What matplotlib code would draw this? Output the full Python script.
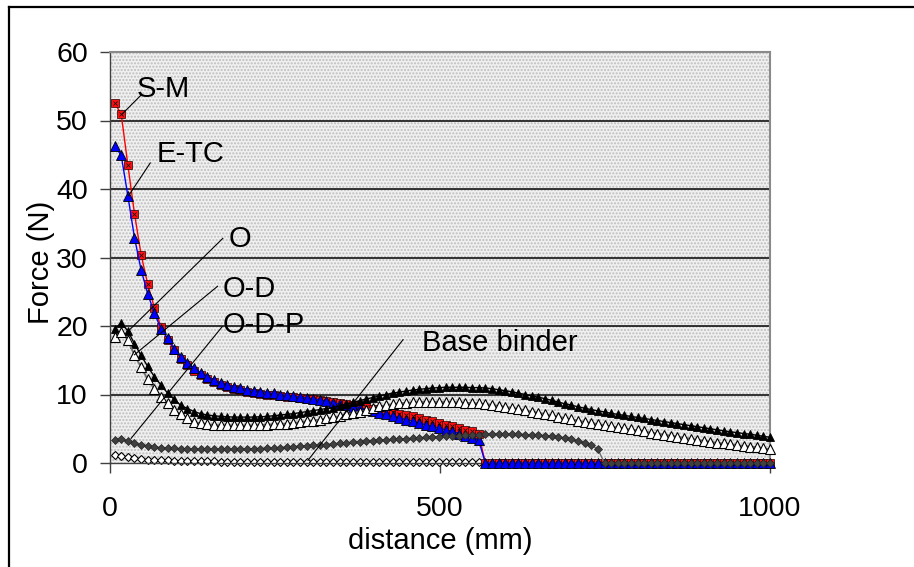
import matplotlib
matplotlib.use("Agg")
import matplotlib.pyplot as plt
import numpy as np
from matplotlib.patches import Rectangle
from matplotlib.lines import Line2D

plt.rcParams["font.family"] = ["Liberation Sans", "DejaVu Sans"]

# sampling distance (mm), one reading about every 10 mm
distance = np.linspace(7, 1000, 100)

s_m = [52.6, 50.9, 43.5, 36.4, 30.4, 26.1, 22.7, 19.9, 18.0, 16.5,
       15.2, 14.3, 13.5, 12.8, 12.2, 11.8, 11.4, 11.1, 10.8, 10.6,
       10.4, 10.25, 10.1, 10.0, 9.9, 9.8, 9.7, 9.6, 9.5, 9.4,
       9.3, 9.2, 9.05, 8.9, 8.75, 8.6, 8.45, 8.3, 8.15, 7.95,
       7.75, 7.6, 7.4, 7.2, 7.0, 6.8, 6.6, 6.35, 6.1, 5.85,
       5.6, 5.35, 5.1, 4.85, 4.6, 4.2] + [0.0] * 44

e_tc = [46.3, 44.9, 39.0, 32.9, 28.2, 24.7, 21.9, 19.6, 18.2, 16.7,
        15.5, 14.6, 13.9, 13.2, 12.6, 12.1, 11.7, 11.4, 11.1, 10.9,
        10.7, 10.5, 10.4, 10.25, 10.15, 10.0, 9.9, 9.75, 9.65, 9.5,
        9.35, 9.2, 9.0, 8.8, 8.6, 8.4, 8.2, 8.0, 7.8, 7.6,
        7.3, 7.1, 6.85, 6.6, 6.35, 6.1, 5.85, 5.6, 5.35, 5.1,
        4.85, 4.6, 4.3, 4.0, 3.7, 3.3] + [0.0] * 44

o = [19.6, 20.4, 19.3, 17.4, 15.7, 14.1, 12.6, 11.4, 10.2, 9.3,
     8.4, 7.95, 7.5, 7.2, 7.0, 6.9, 6.8, 6.75, 6.7, 6.7,
     6.7, 6.7, 6.75, 6.8, 6.9, 7.0, 7.1, 7.2, 7.35, 7.5,
     7.65, 7.8, 7.95, 8.1, 8.35, 8.6, 8.85, 9.1, 9.35, 9.55,
     9.8, 10.0, 10.2, 10.35, 10.5, 10.65, 10.75, 10.85, 10.95, 11.0,
     11.05, 11.05, 11.05, 11.05, 11.0, 11.0, 10.95, 10.85, 10.7, 10.55,
     10.4, 10.2, 10.0, 9.8, 9.6, 9.4, 9.15, 8.9, 8.65, 8.45,
     8.2, 8.0, 7.8, 7.6, 7.45, 7.25, 7.1, 6.95, 6.8, 6.65,
     6.5, 6.35, 6.2, 6.05, 5.9, 5.75, 5.6, 5.45, 5.3, 5.15,
     5.0, 4.85, 4.7, 4.55, 4.45, 4.3, 4.2, 4.05, 3.9, 3.75]

o_d = [18.4, 19.1, 18.0, 15.7, 14.0, 12.2, 10.8, 9.7, 8.7, 7.7,
       7.1, 6.5, 6.0, 5.8, 5.65, 5.55, 5.5, 5.5, 5.5, 5.5,
       5.5, 5.5, 5.55, 5.6, 5.65, 5.7, 5.75, 5.85, 5.95, 6.1,
       6.2, 6.35, 6.5, 6.65, 6.85, 7.1, 7.3, 7.5, 7.7, 8.0,
       8.25, 8.45, 8.6, 8.7, 8.8, 8.85, 8.9, 8.9, 8.9, 8.9,
       8.9, 8.9, 8.85, 8.8, 8.75, 8.7, 8.6, 8.5, 8.35, 8.2,
       8.05, 7.9, 7.7, 7.5, 7.35, 7.15, 6.95, 6.75, 6.55, 6.4,
       6.2, 6.0, 5.85, 5.65, 5.5, 5.35, 5.2, 5.05, 4.9, 4.75,
       4.6, 4.45, 4.3, 4.15, 4.0, 3.85, 3.7, 3.55, 3.4, 3.25,
       3.1, 2.95, 2.85, 2.75, 2.6, 2.5, 2.4, 2.3, 2.15, 2.0]

o_d_p = [3.3, 3.5, 3.2, 2.85, 2.7, 2.5, 2.35, 2.25, 2.2, 2.15,
         2.1, 2.05, 2.0, 2.0, 2.0, 2.0, 2.0, 2.0, 2.0, 2.05,
         2.05, 2.1, 2.1, 2.15, 2.2, 2.25, 2.3, 2.4, 2.45, 2.5,
         2.6, 2.65, 2.7, 2.8, 2.9, 2.95, 3.05, 3.1, 3.2, 3.25,
         3.35, 3.4, 3.45, 3.5, 3.55, 3.6, 3.65, 3.75, 3.8, 3.85,
         3.9, 3.95, 4.0, 4.05, 4.1, 4.15, 4.2, 4.2, 4.2, 4.2,
         4.2, 4.2, 4.15, 4.1, 4.05, 4.0, 3.9, 3.8, 3.65, 3.45,
         3.2, 2.95, 2.6, 2.0] + [0.0] * 26

base_binder = ([1.15, 1.0, 0.85, 0.7, 0.6, 0.5, 0.45, 0.4, 0.38, 0.35,
                0.32, 0.3, 0.28, 0.26, 0.25, 0.24] + [0.2] * 9
               + [0.15] * 16 + [0.1] * 15 + [0.0] * 44)

fig = plt.figure(figsize=(9.14, 5.67), dpi=100)
ax = fig.add_axes([110 / 914, 1 - 463 / 567, 660 / 914, 411 / 567])

# stippled grey plot area
ax.add_patch(Rectangle((0, 0), 1, 1, transform=ax.transAxes, facecolor="#f0f0f0",
                       edgecolor="#bdbdbd", hatch=".....", lw=0, zorder=0))
ax.set_facecolor("white")

for yv in [10, 20, 30, 40, 50]:
    ax.axhline(yv, color="black", lw=1.1, zorder=1)

# base binder
ax.plot(distance, base_binder, color="#808080", lw=1, marker="D", ms=4.5,
        mfc="white", mec="black", mew=0.8, zorder=2, clip_on=False)
# S-M
ax.plot(distance, s_m, color="red", lw=1, marker="s", ms=5.5,
        mfc="#ff1010", mec="#200000", mew=0.5, zorder=3, clip_on=False)
ax.plot(distance, s_m, ls="none", marker="x", ms=2.8, mec="black", mew=0.5,
        zorder=3, clip_on=False)
# E-TC
ax.plot(distance, e_tc, color="blue", lw=1, marker="^", ms=7,
        mfc="blue", mec="black", mew=0.6, zorder=4, clip_on=False)
# O
ax.plot(distance, o, color="black", lw=1, marker="^", ms=6,
        mfc="black", mec="black", mew=0.6, zorder=5, clip_on=False)
# O-D
ax.plot(distance, o_d, color="#707070", lw=1.3, marker="^", ms=6.5,
        mfc="white", mec="black", mew=0.8, zorder=6, clip_on=False)
# O-D-P
ax.plot(distance, o_d_p, color="#707070", lw=1, marker="D", ms=4.5,
        mfc="#404040", mec="#202020", mew=0.5, zorder=7, clip_on=False)

ax.set_xlim(0, 1000)
ax.set_ylim(0, 60)
ax.set_xticks([0, 500, 1000])
ax.set_yticks([0, 10, 20, 30, 40, 50, 60])
ax.tick_params(axis="both", direction="out", length=7, width=1, color="#404040",
               labelsize=20.5)
ax.tick_params(axis="y", pad=9)
ax.tick_params(axis="x", pad=17)
for side in ["left", "bottom"]:
    ax.spines[side].set_color("#404040")
    ax.spines[side].set_linewidth(1)
for side in ["top", "right"]:
    ax.spines[side].set_color("#8a8a8a")
    ax.spines[side].set_linewidth(1.5)

fig.text(440 / 914, 1 - 541 / 567, "distance (mm)", ha="center", va="center", fontsize=21)
fig.text(41 / 914, 1 - 262 / 567, "Force (N)", ha="center", va="center", fontsize=21,
         rotation=90)

# labels with leader lines
labels = [
    ("S-M", (18, 50.9), (47, 53.7), (41, 53.4)),
    ("E-TC", (28, 39.0), (61, 43.8), (70, 43.9)),
    ("O", (28, 19.3), (171, 32.8), (180, 31.6)),
    ("O-D", (37, 15.8), (163, 25.8), (171, 24.3)),
    ("O-D-P", (32, 3.6), (170, 19.9), (171, 19.0)),
    ("Base binder", (300, 0.4), (444, 18.0), (473, 16.35)),
]
for txt, p0, p1, ptxt in labels:
    ax.plot([p0[0], p1[0]], [p0[1], p1[1]], color="black", lw=0.8, zorder=8)
    ax.text(ptxt[0], ptxt[1], txt, ha="left", va="baseline", fontsize=21, zorder=9)

# outer frame (left and top edges)
fig.add_artist(Line2D([8.5 / 914, 8.5 / 914], [0, 1 - 6.5 / 567], color="black",
                      lw=1.6, transform=fig.transFigure))
fig.add_artist(Line2D([8.5 / 914, 1], [1 - 6.5 / 567, 1 - 6.5 / 567], color="black",
                      lw=1.6, transform=fig.transFigure))

fig.savefig("out.png", dpi=100)
